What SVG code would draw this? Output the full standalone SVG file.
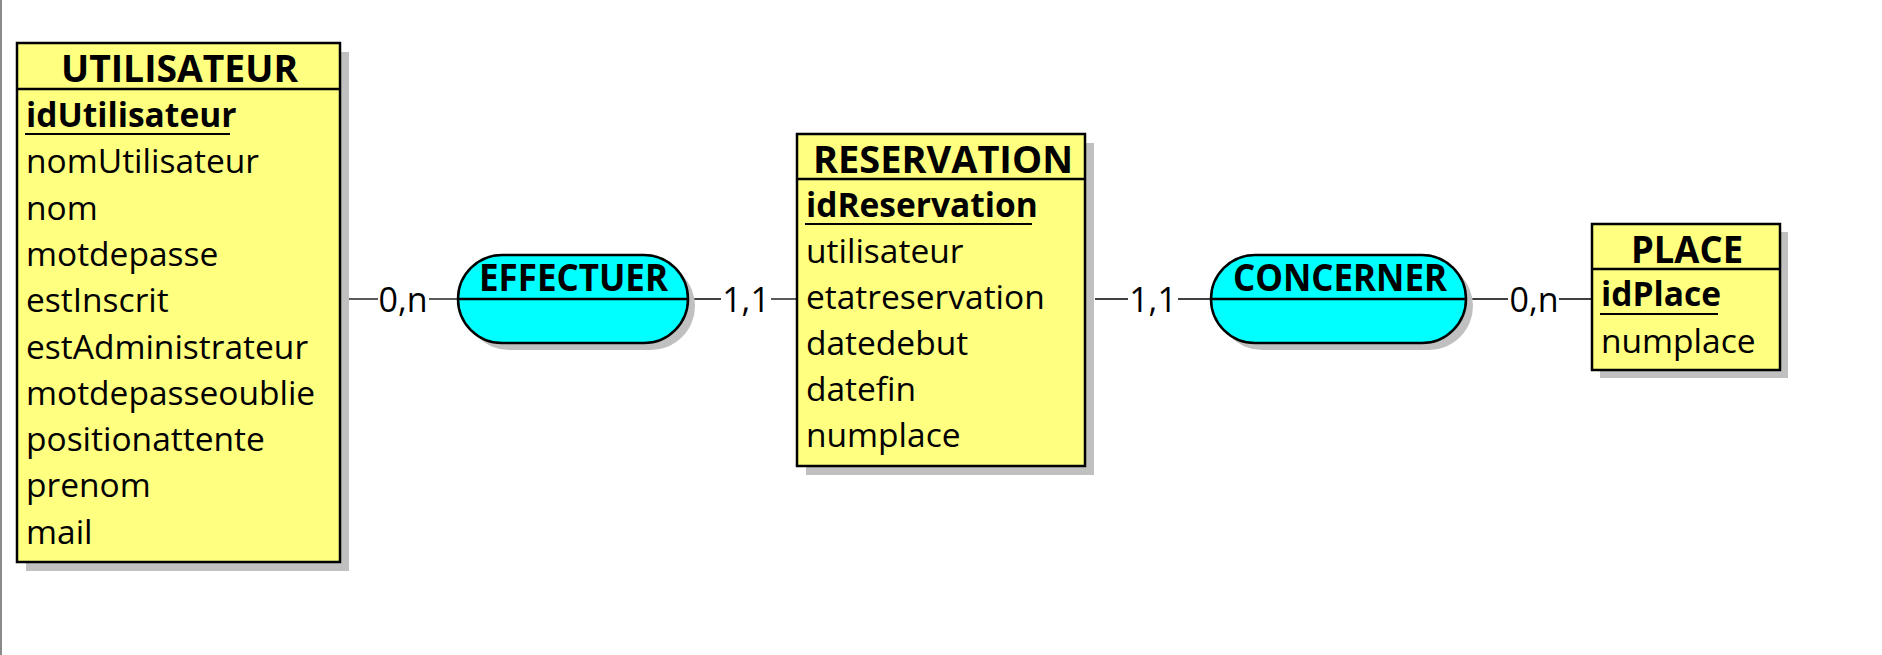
<svg xmlns="http://www.w3.org/2000/svg" width="1882" height="655" viewBox="0 0 1882 655">
<style>
.shadow{fill:#c0c0c0}
.ent{fill:#ffff80;stroke:#000;stroke-width:2.5}
.rel{fill:#00ffff;stroke:#000;stroke-width:2.5}
.sep{stroke:#000;stroke-width:2.5}
.ul{stroke:#000;stroke-width:2}
.conn{stroke:#000;stroke-width:1.3;fill:none}
.title{font-family:"Open Sans","Liberation Sans",sans-serif;font-weight:bold;font-size:37px;fill:#000;text-anchor:middle}
.attr{font-family:"Open Sans","Liberation Sans",sans-serif;font-size:33.5px;fill:#000}
.key{font-family:"Open Sans","Liberation Sans",sans-serif;font-size:33.5px;font-weight:bold;fill:#000}
.card{font-family:"Open Sans","Liberation Sans",sans-serif;font-size:34px;fill:#000;text-anchor:middle}
</style>
<rect x="0" y="0" width="1882" height="655" fill="#fff"/>
<rect x="0" y="0" width="2" height="655" fill="#8a8a8a"/>

<g id="connectors">
  <line class="conn" x1="348" y1="299" x2="378" y2="299"/>
  <line class="conn" x1="429" y1="299" x2="458" y2="299"/>
  <text class="card" x="403" y="312">0,n</text>
  <line class="conn" x1="688" y1="299" x2="721" y2="299"/>
  <line class="conn" x1="771" y1="299" x2="797" y2="299"/>
  <text class="card" x="746" y="312">1,1</text>
  <line class="conn" x1="1095" y1="299" x2="1128" y2="299"/>
  <line class="conn" x1="1178" y1="299" x2="1211" y2="299"/>
  <text class="card" x="1153" y="312">1,1</text>
  <line class="conn" x1="1466" y1="299" x2="1508" y2="299"/>
  <line class="conn" x1="1559" y1="299" x2="1592" y2="299"/>
  <text class="card" x="1534" y="312">0,n</text>
</g>

<g id="UTILISATEUR">
  <rect class="shadow" x="26" y="52" width="323" height="519"/>
  <rect class="ent" x="17" y="43" width="323" height="519"/>
  <line class="sep" x1="17" y1="89" x2="340" y2="89"/>
  <text class="title" x="179.5" y="82" textLength="237" lengthAdjust="spacingAndGlyphs">UTILISATEUR</text>
  <text class="key" x="26" y="127">idUtilisateur</text>
  <line class="ul" x1="25" y1="134" x2="230" y2="134"/>
  <text class="attr" x="26" y="173.3">nomUtilisateur</text>
  <text class="attr" x="26" y="219.6">nom</text>
  <text class="attr" x="26" y="265.9">motdepasse</text>
  <text class="attr" x="26" y="312.2">estInscrit</text>
  <text class="attr" x="26" y="358.5">estAdministrateur</text>
  <text class="attr" x="26" y="404.8">motdepasseoublie</text>
  <text class="attr" x="26" y="451.1">positionattente</text>
  <text class="attr" x="26" y="497.4">prenom</text>
  <text class="attr" x="26" y="543.7">mail</text>
</g>

<g id="EFFECTUER">
  <rect class="shadow" x="465" y="262" width="230" height="88" rx="44"/>
  <rect class="rel" x="458" y="255" width="230" height="88" rx="44"/>
  <line class="sep" x1="458" y1="299" x2="688" y2="299"/>
  <text class="title" x="573.5" y="291" textLength="189" lengthAdjust="spacingAndGlyphs">EFFECTUER</text>
</g>

<g id="RESERVATION">
  <rect class="shadow" x="806" y="143" width="288" height="332"/>
  <rect class="ent" x="797" y="134" width="288" height="332"/>
  <line class="sep" x1="797" y1="179" x2="1085" y2="179"/>
  <text class="title" x="943" y="173" textLength="260" lengthAdjust="spacingAndGlyphs">RESERVATION</text>
  <text class="key" x="806" y="217">idReservation</text>
  <line class="ul" x1="805" y1="224" x2="1032" y2="224"/>
  <text class="attr" x="806" y="263">utilisateur</text>
  <text class="attr" x="806" y="309">etatreservation</text>
  <text class="attr" x="806" y="355">datedebut</text>
  <text class="attr" x="806" y="401">datefin</text>
  <text class="attr" x="806" y="447">numplace</text>
</g>

<g id="CONCERNER">
  <rect class="shadow" x="1218" y="262" width="255" height="88" rx="44"/>
  <rect class="rel" x="1211" y="255" width="255" height="88" rx="44"/>
  <line class="sep" x1="1211" y1="299" x2="1466" y2="299"/>
  <text class="title" x="1340" y="291" textLength="214" lengthAdjust="spacingAndGlyphs">CONCERNER</text>
</g>

<g id="PLACE">
  <rect class="shadow" x="1600" y="232" width="188" height="146"/>
  <rect class="ent" x="1592" y="224" width="188" height="146"/>
  <line class="sep" x1="1592" y1="269" x2="1780" y2="269"/>
  <text class="title" x="1687" y="263" textLength="112" lengthAdjust="spacingAndGlyphs">PLACE</text>
  <text class="key" x="1601" y="306">idPlace</text>
  <line class="ul" x1="1600" y1="314" x2="1718" y2="314"/>
  <text class="attr" x="1601" y="353">numplace</text>
</g>
</svg>
